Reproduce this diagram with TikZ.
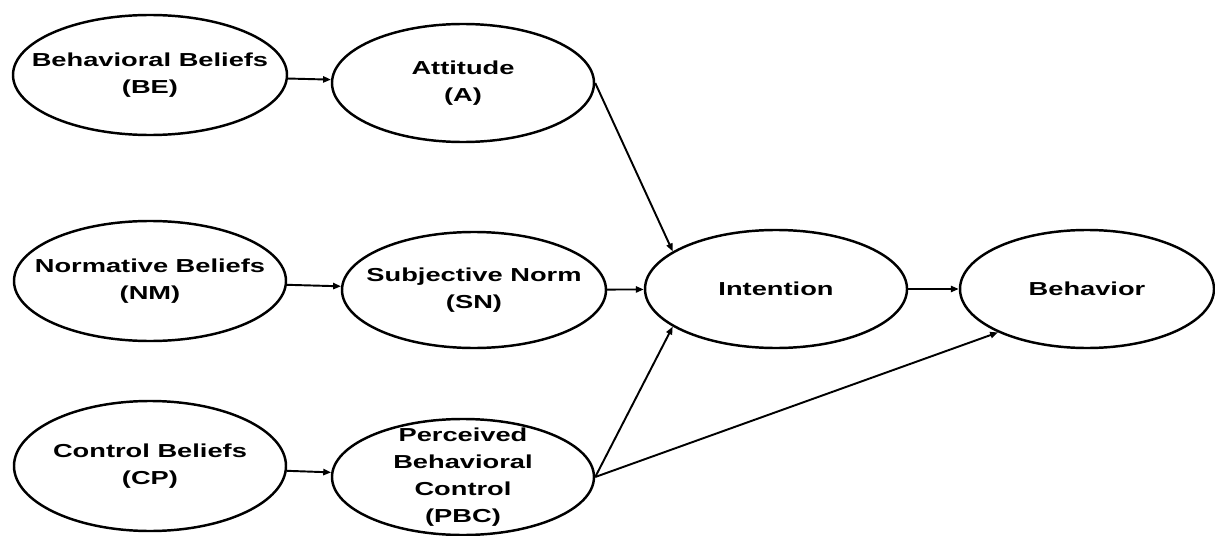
\documentclass[tikz,border=0pt]{standalone}
\usepackage{fontspec}
\setmainfont[FakeStretch=1.45]{Liberation Sans}
\usetikzlibrary{shapes.geometric,arrows.meta}
\begin{document}
\begin{tikzpicture}[oval/.style={draw,ellipse,line width=1.4pt,inner sep=0pt},
        txt/.style={align=center,font=\fontsize{10.7}{15.3}\selectfont\bfseries},
        link/.style={line width=1.1pt,-{Triangle[length=4.5pt,width=3.5pt]}}]
            \useasboundingbox (0,0) rectangle (24.3,10.7);
            \node[oval,minimum width=5.48cm,minimum height=2.4cm] (be) at (3.0,9.2) {};
            \node[txt] (beT) at (be) {Behavioral Beliefs\\(BE)};
            \node[oval,minimum width=5.24cm,minimum height=2.36cm] (att) at (9.26,9.04) {};
            \node[txt] (attT) at (att) {Attitude\\(A)};
            \node[oval,minimum width=5.44cm,minimum height=2.4cm] (nb) at (3.0,5.08) {};
            \node[txt] (nbT) at (nb) {Normative Beliefs\\(NM)};
            \node[oval,minimum width=5.28cm,minimum height=2.32cm] (sn) at (9.48,4.9) {};
            \node[txt] (snT) at (sn) {Subjective Norm\\(SN)};
            \node[oval,minimum width=5.44cm,minimum height=2.6cm] (cb) at (3.0,1.38) {};
            \node[txt] (cbT) at (cb) {Control Beliefs\\(CP)};
            \node[oval,minimum width=5.24cm,minimum height=2.32cm] (pbc) at (9.26,1.16) {};
            \node[txt] (pbcT) at (pbc) {Perceived\\Behavioral\\Control\\(PBC)};
            \node[oval,minimum width=5.24cm,minimum height=2.36cm] (int) at (15.52,4.92) {};
            \node[txt] (intT) at (int) {Intention};
            \node[oval,minimum width=5.08cm,minimum height=2.36cm] (beh) at (21.74,4.92) {};
            \node[txt] (behT) at (beh) {Behavior};
            \draw[link](be)--(att);
            \draw[link](nb)--(sn);
            \draw[link](cb)--(pbc);
            \draw[link](att.east)--(int.160);
            \draw[link](sn)--(int);
            \draw[link](pbc.east)--(int.200);
            \draw[link](int)--(beh);
            \draw[link](pbc.east)--(beh.206);
        \end{tikzpicture}
\end{document}
